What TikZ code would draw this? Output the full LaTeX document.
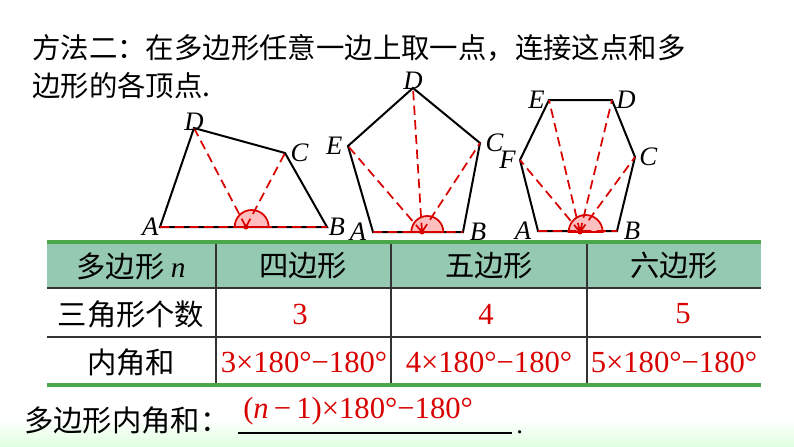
\documentclass[tikz,border=0pt]{standalone}
\usepackage{fontspec}
\setmainfont{Liberation Serif}
\newfontfamily\cjk{Noto Sans CJK SC}
\begin{document}
\begin{tikzpicture}[x=0.75pt,y=-0.75pt,
  edge/.style={black,line width=1.5pt,line join=miter},
  diag/.style={red!85!black,dashed,dash pattern=on 7pt off 4pt,line width=1.3pt},
  arcfill/.style={fill=red!25,draw=red!85!black,line width=1.3pt},
  lbl/.style={font=\fontsize{20}{20}\selectfont\itshape,inner sep=1pt},
  cn/.style={font=\cjk\fontsize{#1}{#1}\selectfont,inner sep=0pt},
  rd/.style={text=red!85!black,font=\fontsize{23}{23}\selectfont,inner sep=0pt},
  thick green/.style={draw=green!50!black!70,line width=2.5pt},
  thin/.style={draw=black!80,line width=0.8pt}]
\useasboundingbox (0,0) rectangle (794,447);
\fill[white] (0,0) rectangle (794,447);
\shade[top color=white,bottom color=green!12] (0,418) rectangle (794,447);
% title
\node[cn=21.3,anchor=west] (t1) at (32,48) {方法二：在多边形任意一边上取一点，连接这点和多};
\node[cn=21.3,anchor=west] (t2) at (32,86) {边形的各顶点.};
% quadrilateral
\coordinate (qA) at (160,227); \coordinate (qB) at (327,227);
\coordinate (qC) at (285,153); \coordinate (qD) at (194,128);
\coordinate (qP) at (246,227);
\draw[edge] (qA)--(qB)--(qC)--(qD)--cycle;
\fill[arcfill] ([xshift=17]qP) arc (0:180:12.75pt) -- cycle;
\draw[diag] (qP)--(qD) (qP)--(qC) (qA)--(qB);
\fill[red!85!black] (qP) circle (1.9pt);
\node[lbl,anchor=east] (lA1) at (qA) {A};
\node[lbl,anchor=west] (lB1) at (qB) {B};
\node[lbl,anchor=west] (lC1) at ([xshift=3]qC) {C};
\node[lbl,anchor=south] (lD1) at ([yshift=-3]qD) {D};
% pentagon
\coordinate (pA) at (373,232); \coordinate (pB) at (463,232);
\coordinate (pC) at (480,143); \coordinate (pD) at (413,88);
\coordinate (pE) at (348,146); \coordinate (pP) at (422,232);
\draw[edge] (pA)--(pB)--(pC)--(pD)--(pE)--cycle;
\fill[arcfill] ([xshift=16]pP) arc (0:180:12pt) -- cycle;
\draw[diag] (pP)--(pE) (pP)--(pD) (pP)--(pC) (pA)--(pB);
\fill[red!85!black] (pP) circle (1.9pt);
\node[lbl,anchor=east] (lA2) at ([xshift=-4]pA) {A};
\node[lbl,anchor=west] (lB2) at ([xshift=4]pB) {B};
\node[lbl,anchor=west] (lC2) at ([xshift=3]pC) {C};
\node[lbl,anchor=south] (lD2) at ([yshift=-2]pD) {D};
\node[lbl,anchor=east] (lE2) at ([xshift=-3]pE) {E};
% hexagon
\coordinate (hA) at (538,231); \coordinate (hB) at (617,231);
\coordinate (hC) at (635,157); \coordinate (hD) at (612,100);
\coordinate (hE) at (549,100); \coordinate (hF) at (520,160);
\coordinate (hP) at (580,232);
\draw[edge] (hA)--(hB)--(hC)--(hD)--(hE)--(hF)--cycle;
\fill[arcfill] ([xshift=17]hP) arc (0:180:12.75pt) -- cycle;
\draw[diag] (hP)--(hF) (hP)--(hE) (hP)--(hD) (hP)--(hC) (hA)--(hB);
\fill[red!85!black] (hP) circle (1.9pt);
\node[lbl,anchor=east] (lA3) at ([xshift=-4]hA) {A};
\node[lbl,anchor=west] (lB3) at ([xshift=4]hB) {B};
\node[lbl,anchor=west] (lC3) at ([xshift=2]hC) {C};
\node[lbl,anchor=west] (lD3) at ([xshift=2]hD) {D};
\node[lbl,anchor=east] (lE3) at ([xshift=-2]hE) {E};
\node[lbl,anchor=east] (lF3) at ([xshift=-2]hF) {F};
% table
\fill[green!30!teal!35!white!90!black] (47,242) rectangle (761,288);
\draw[thin] (47,288)--(761,288) (47,337)--(761,337);
\draw[thin] (216,242)--(216,385) (391,242)--(391,385) (587,242)--(587,385);
\draw[thick green] (47,242)--(761,242) (47,385)--(761,385);
\node[cn=22] (h0) at (131,266) {多边形 {\rmfamily\itshape n}};
\node[cn=22] (h1) at (303,266) {四边形};
\node[cn=22] (h2) at (489,266) {五边形};
\node[cn=22] (h3) at (674,266) {六边形};
\node[cn=22] (r1) at (131,314) {三角形个数};
\node[rd] (n1) at (300,314) {3};
\node[rd] (n2) at (486,314) {4};
\node[rd] (n3) at (683,314) {5};
\node[cn=22] (r2) at (131,362) {内角和};
\node[rd] (s1) at (304,362) {3×180°−180°};
\node[rd] (s2) at (489,362) {4×180°−180°};
\node[rd] (s3) at (674,362) {5×180°−180°};
% bottom
\node[cn=22,anchor=west] (b0) at (24,420) {多边形内角和：};
\node[rd,anchor=west] (b1) at (243,411) {(\textit{n}\,−\,1)×180°−180°};
\coordinate (u1) at (238,433); \coordinate (u2) at (512,433);
\draw[black,line width=0.8pt] (u1)--(u2);
\node[font=\fontsize{20}{20}\selectfont,anchor=south west,inner sep=0pt] (dot) at (516,434) {.};
\end{tikzpicture}
\end{document}
